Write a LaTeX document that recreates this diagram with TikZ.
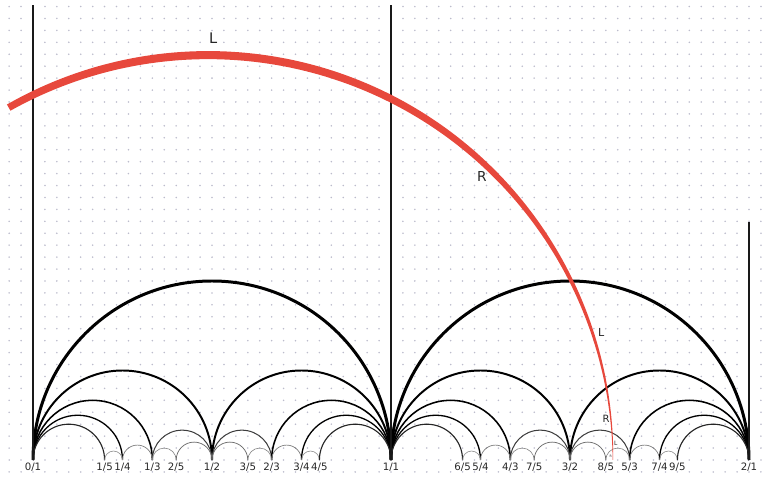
\documentclass[tikz,border=0pt]{standalone}
\usepackage{fontspec}
\setmainfont{DejaVu Sans}
\definecolor{pathred}{RGB}{231,72,60}
\definecolor{griddot}{RGB}{188,188,204}
\tikzset{
  fraclabel/.style={font=\fontsize{5.8}{6}\selectfont, text=black!85, inner sep=0pt},
  turnlabel/.style={text=black!85, inner sep=0pt},
  axisline/.style={line width=0.8pt, black!90},
}
\begin{document}
\begin{tikzpicture}[x=7.16cm, y=7.16cm]
\useasboundingbox (-0.09218,-0.05866) rectangle (2.05587,1.28492);
% 点阵
\foreach \i in {-2,...,61}
  \foreach \j in {-1,...,38}
    \fill[griddot] (\i/30,\j/30) circle[radius=0.5pt];
% 半圆：Farey 邻居
\foreach \k in {0,1}
  \foreach \pa/\qa/\pb/\qb in {0/1/1/1, 0/1/1/2, 1/2/1/1, 0/1/1/3, 1/3/1/2, 1/2/2/3, 2/3/1/1,
      0/1/1/4, 1/4/1/3, 1/3/2/5, 2/5/1/2, 1/2/3/5, 3/5/2/3, 2/3/3/4, 3/4/1/1,
      0/1/1/5, 1/5/1/4, 3/4/4/5, 4/5/1/1} {
    \pgfmathsetmacro\len{1/(\qa*\qb)}
    \pgfmathsetmacro\w{max(0.35,1.7*\len^0.6)}
    \pgfmathtruncatemacro\g{min(100,30+280*\len)}
    \draw[black!\g, line width=\w pt] ({\k+\pa/\qa},0) arc[start angle=180, end angle=0, radius=\len/2];
  }
% 竖线
\draw[axisline] (0,0) -- (0,1.271);
\draw[axisline] (1,0) -- (1,1.271);
\draw[axisline] (2,0) -- (2,0.665);
% 红色测地线，越低越细
\fill[pathred] plot[domain=119.5:0, samples=160]
    ({0.489+(1.131+0.0105*sin(\x)+0.0008)*cos(\x)}, {(1.131+0.0105*sin(\x)+0.0008)*sin(\x)})
  -- plot[domain=0:119.5, samples=160]
    ({0.489+(1.131-0.0105*sin(\x)-0.0008)*cos(\x)}, {(1.131-0.0105*sin(\x)-0.0008)*sin(\x)})
  -- cycle;
% L / R
\node[turnlabel, font=\fontsize{8.3}{9}\selectfont] (t1) at (0.503,1.179) {L};
\node[turnlabel, font=\fontsize{7.8}{8}\selectfont] (t2) at (1.254,0.793) {R};
\node[turnlabel, font=\fontsize{6.3}{7}\selectfont] (t3) at (1.587,0.355) {L};
\node[turnlabel, font=\fontsize{5.7}{6}\selectfont] (t4) at (1.601,0.115) {R};
\node[turnlabel, font=\fontsize{3.4}{4}\selectfont] (t5) at (1.628,0.047) {L};
\node[turnlabel, font=\fontsize{1.8}{2}\selectfont] (t6) at (1.614,0.011) {R};
% 分数
\foreach \p/\q in {0/1, 1/5, 1/4, 1/3, 2/5, 1/2, 3/5, 2/3, 3/4, 4/5, 1/1,
    6/5, 5/4, 4/3, 7/5, 3/2, 8/5, 5/3, 7/4, 9/5, 2/1}
  \node[fraclabel] (fr-\p-\q) at ({\p/\q},-0.0196) {\p/\q};
\end{tikzpicture}
\end{document}
